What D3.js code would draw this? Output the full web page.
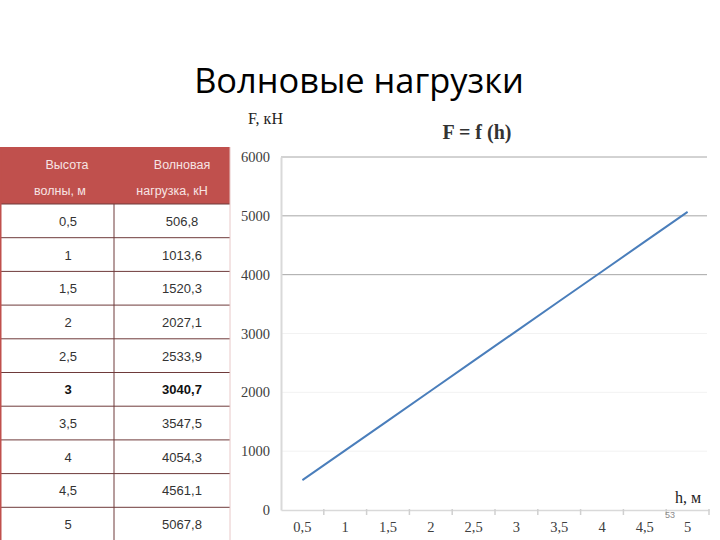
<!DOCTYPE html>
<html>
<head>
<meta charset="utf-8">
<script src="https://cdn.jsdelivr.net/npm/d3@7"></script>
<style>
  html, body { margin: 0; padding: 0; background: #fff; }
  svg { display: block; }
</style>
</head>
<body>
<svg id="chart" width="720" height="540"></svg>
<script>
// ---- data ----
const heights = ["0,5", "1", "1,5", "2", "2,5", "3", "3,5", "4", "4,5", "5"];
const loads = [506.8, 1013.6, 1520.3, 2027.1, 2533.9, 3040.7, 3547.5, 4054.3, 4561.1, 5067.8];
const loadLabels = ["506,8", "1013,6", "1520,3", "2027,1", "2533,9", "3040,7", "3547,5", "4054,3", "4561,1", "5067,8"];
const yTicks = [0, 1000, 2000, 3000, 4000, 5000, 6000];
const strongGrid = [4000, 5000, 6000];
const headerCol1 = ["Высота", "волны, м"];
const headerCol2 = ["Волновая", "нагрузка, кН"];
const boldRow = "3";

const svg = d3.select("#chart");

// ---- title ----
svg.append("text")
  .attr("x", 359).attr("y", 93)
  .attr("text-anchor", "middle")
  .attr("font-family", "'Open Sans', sans-serif")
  .attr("font-size", 34.4)
  .attr("fill", "#000")
  .text("Волновые нагрузки");

// ---- table ----
const tbl = svg.append("g");
const tX0 = 0, tX1 = 114, tX2 = 230;
const headTop = 147, bodyTop = 204, rowH = 33.7;

tbl.append("rect").attr("x", tX0).attr("y", headTop)
  .attr("width", tX2 - tX0).attr("height", bodyTop - headTop)
  .attr("fill", "#c0504d");

const rowScale = d3.scaleLinear().domain([0, 1]).range([bodyTop, bodyTop + rowH]);

tbl.selectAll("line.rowline")
  .data(d3.range(heights.length + 1))
  .join("line")
  .attr("x1", tX0).attr("x2", tX2)
  .attr("y1", d => rowScale(d)).attr("y2", d => rowScale(d))
  .attr("stroke", "#6e3a3a").attr("stroke-width", 1);

tbl.append("line").attr("x1", tX1).attr("x2", tX1)
  .attr("y1", bodyTop).attr("y2", 540)
  .attr("stroke", "#6e3a3a").attr("stroke-width", 1);
tbl.append("line").attr("x1", tX2).attr("x2", tX2)
  .attr("y1", headTop).attr("y2", 540)
  .attr("stroke", "#e8c8c8").attr("stroke-width", 1);
tbl.append("line").attr("x1", 0.5).attr("x2", 0.5)
  .attr("y1", headTop).attr("y2", 540)
  .attr("stroke", "#c0504d").attr("stroke-width", 2);

// header text
tbl.selectAll("text.h1").data(headerCol1).join("text")
  .attr("x", (d, i) => i === 0 ? 67 : 60)
  .attr("y", (d, i) => i === 0 ? 169 : 195)
  .attr("text-anchor", "middle")
  .attr("font-family", "Arial, 'Liberation Sans', sans-serif")
  .attr("font-size", 12.5).attr("fill", "#f7e4e4")
  .text(d => d);
tbl.selectAll("text.h2").data(headerCol2).join("text")
  .attr("x", (d, i) => i === 0 ? 182 : 172)
  .attr("y", (d, i) => i === 0 ? 169 : 195)
  .attr("text-anchor", "middle")
  .attr("font-family", "Arial, 'Liberation Sans', sans-serif")
  .attr("font-size", 12.5).attr("fill", "#f7e4e4")
  .text(d => d);

// body text
tbl.selectAll("text.c1").data(heights).join("text")
  .attr("x", 68)
  .attr("y", (d, i) => rowScale(i + 0.5) + 5)
  .attr("text-anchor", "middle")
  .attr("font-family", "Arial, 'Liberation Sans', sans-serif")
  .attr("font-size", 13)
  .attr("font-weight", d => d === boldRow ? "bold" : "normal")
  .attr("fill", d => d === boldRow ? "#111" : "#333")
  .text(d => d);
tbl.selectAll("text.c2").data(loadLabels).join("text")
  .attr("x", 182)
  .attr("y", (d, i) => rowScale(i + 0.5) + 5)
  .attr("text-anchor", "middle")
  .attr("font-family", "Arial, 'Liberation Sans', sans-serif")
  .attr("font-size", 13)
  .attr("font-weight", (d, i) => heights[i] === boldRow ? "bold" : "normal")
  .attr("fill", (d, i) => heights[i] === boldRow ? "#111" : "#333")
  .text(d => d);

// ---- chart ----
const x = d3.scaleBand().domain(heights).range([281, 709]).padding(0);
const y = d3.scaleLinear().domain([0, 6000]).range([510, 157]);

const g = svg.append("g");

// gridlines
g.selectAll("line.grid").data(yTicks.filter(t => t > 0)).join("line")
  .attr("x1", 281).attr("x2", 707)
  .attr("y1", d => y(d)).attr("y2", d => y(d))
  .attr("stroke", d => strongGrid.includes(d) ? "#a6a6a6" : "#f2f2f2")
  .attr("stroke-width", 1);

// y axis
const yAxis = d3.axisLeft(y).tickValues(yTicks).tickSize(0).tickPadding(11)
  .tickFormat(d3.format("d"));
const yg = g.append("g").attr("transform", "translate(281,0)").call(yAxis);
yg.select(".domain").attr("stroke", "#d9d9d9").attr("stroke-width", 2);
yg.selectAll("text").attr("font-family", "'Liberation Serif', 'Times New Roman', serif")
  .attr("font-size", 14.5).attr("fill", "#404040");

// x axis
const xAxis = d3.axisBottom(x).tickSize(0).tickPadding(12);
const xg = g.append("g").attr("transform", "translate(0,510)").call(xAxis);
xg.select(".domain").attr("stroke", "#d9d9d9").attr("stroke-width", 1.5);
xg.selectAll("text").attr("font-family", "'Liberation Serif', 'Times New Roman', serif")
  .attr("font-size", 14.5).attr("fill", "#404040");
// category boundary ticks
xg.selectAll("line.bt").data(heights).join("line")
  .attr("x1", d => x(d) + x.bandwidth())
  .attr("x2", d => x(d) + x.bandwidth())
  .attr("y1", -1).attr("y2", 5)
  .attr("stroke", "#d0d0d0").attr("stroke-width", 1.5);

// line
const line = d3.line()
  .x((d, i) => x(heights[i]) + x.bandwidth() / 2)
  .y(d => y(d));
g.append("path").datum(loads)
  .attr("d", line)
  .attr("fill", "none")
  .attr("stroke", "#4a7ebb")
  .attr("stroke-width", 2);

// labels
svg.append("text").attr("x", 248).attr("y", 124)
  .attr("font-family", "'Liberation Serif', 'Times New Roman', serif")
  .attr("font-size", 16).attr("fill", "#222").text("F, кН");
svg.append("text").attr("x", 477).attr("y", 139)
  .attr("text-anchor", "middle")
  .attr("font-family", "'Liberation Serif', 'Times New Roman', serif")
  .attr("font-size", 20).attr("font-weight", "bold").attr("fill", "#333")
  .text("F = f (h)");
svg.append("text").attr("x", 675).attr("y", 503)
  .attr("font-family", "'Liberation Serif', 'Times New Roman', serif")
  .attr("font-size", 16).attr("fill", "#222").text("h, м");
svg.append("text").attr("x", 665).attr("y", 518)
  .attr("font-family", "Arial, 'Liberation Sans', sans-serif")
  .attr("font-size", 9).attr("fill", "#8c8c8c").text("53");
</script>
</body>
</html>
